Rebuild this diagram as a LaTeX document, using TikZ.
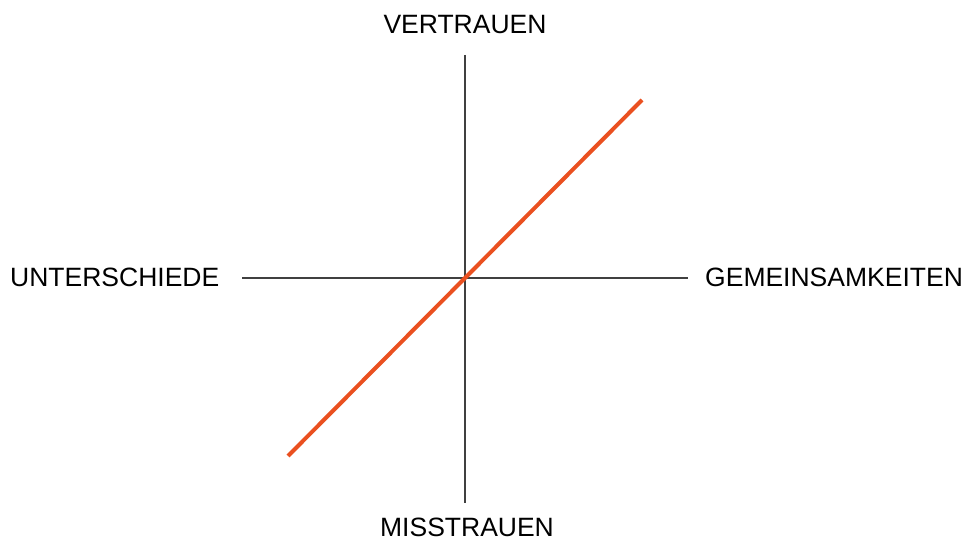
\documentclass[tikz,border=0pt]{standalone}
\usepackage{fontspec}
\setmainfont{Liberation Sans}
\begin{document}
\begin{tikzpicture}[x=1pt,y=1pt,
  lbl/.style={inner sep=0pt,font=\fontsize{26.5}{30}\selectfont,text=black},
  axis/.style={draw=black!75,line width=2pt},
  trend/.style={draw={rgb,255:red,234;green,80;blue,32},line width=4pt}]
\useasboundingbox (0,0) rectangle (964,541);
\coordinate (top) at (465,486);
\coordinate (bot) at (465,38);
\coordinate (left) at (242,263);
\coordinate (right) at (688,263);
\coordinate (lo) at (288,85);
\coordinate (hi) at (642,441);
\draw[axis] (top) -- (bot);
\draw[axis] (left) -- (right);
\draw[trend] (lo) -- (hi);
\node[lbl,anchor=base] (v) at (465,507) {VERTRAUEN};
\node[lbl,anchor=base] (m) at (467,4.5) {MISSTRAUEN};
\node[lbl,anchor=base west] (u) at (10,254) {UNTERSCHIEDE};
\node[lbl,anchor=base west] (g) at (705,254) {GEMEINSAMKEITEN};
\end{tikzpicture}
\end{document}
